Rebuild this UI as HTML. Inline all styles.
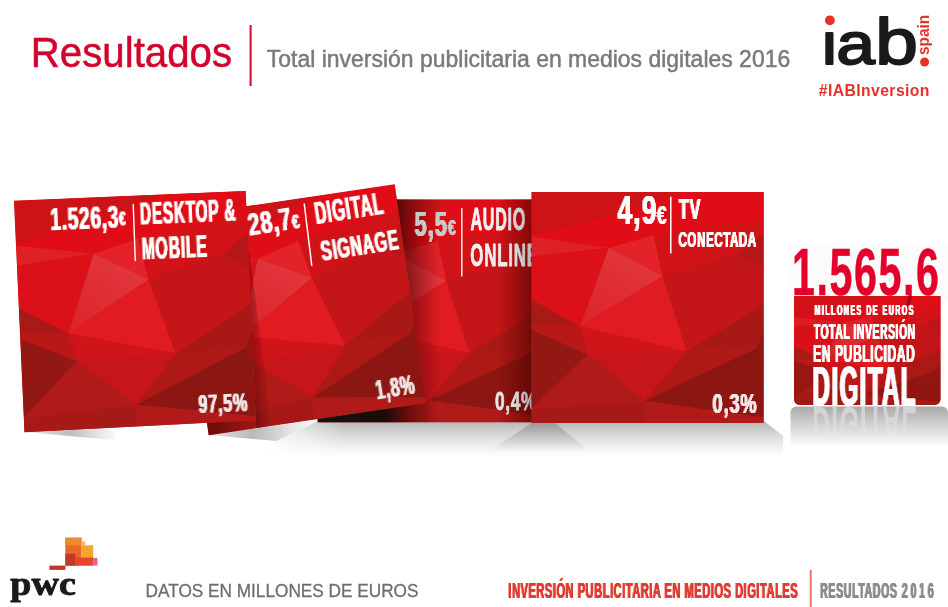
<!DOCTYPE html>
<html lang="es">
<head>
<meta charset="utf-8">
<title>Resultados - Total inversión publicitaria en medios digitales 2016</title>
<style>
html,body{margin:0;padding:0;background:#fff}
body{width:948px;height:607px;overflow:hidden;position:relative;font-family:"Liberation Sans",sans-serif}
svg{position:absolute;left:0;top:0;display:block}
svg text{font-family:"Liberation Sans",sans-serif;font-kerning:normal;white-space:pre}
svg text.serif{font-family:"Liberation Serif",serif}
</style>
</head>
<body>
<svg width="948" height="607" viewBox="0 0 948 607">
<defs>
<g id="tex">

<rect x="-6" y="-6" width="244" height="244" fill="#d41319"/>
<polygon points="0,0 150,0 90,22 0,44" fill="#cd1318"/>
<polygon points="0,44 90,22 150,0 232,0 232,28 122,43.5 77.4,56.3 0,45" fill="#e00d16"/>
<polygon points="0,45 77.4,56.3 0,65" fill="#df2027"/>
<polygon points="0,65 77.4,56.3 48.6,135 0,108" fill="#dc1018"/>
<polygon points="122,43.5 232,28 232,42 206.7,62.5 131,84.5" fill="#d11318"/>
<polygon points="77.4,56.3 122,43.5 131,84.5" fill="#e3222a"/>
<polygon points="77.4,56.3 131,84.5 48.6,135" fill="url(#lf)"/>
<polygon points="48.6,135 131,84.5 155.2,159.8" fill="#e01b22"/>
<polygon points="206.7,62.5 232,42 232,78" fill="#b51618"/>
<polygon points="131,84.5 206.7,62.5 232,78 232,113 155.2,159.8" fill="#c41518"/>
<polygon points="155.2,159.8 232,113 232,140 225.2,156.7" fill="#a81915"/>
<polygon points="225.2,156.7 232,140 232,175" fill="#8f1611"/>
<polygon points="155.2,159.8 225.2,156.7 113,209.3" fill="#ae1916"/>
<polygon points="113,209.3 225.2,156.7 232,175 232,226" fill="#8c1611"/>
<polygon points="113,209.3 232,226 232,232 112,232" fill="#b01a19"/>
<polygon points="55.8,162.9 155.2,159.8 113,209.3" fill="#c6161a"/>
<polygon points="48.6,135 155.2,159.8 55.8,162.9" fill="#cf151a"/>
<polygon points="0,108 48.6,135 0,133" fill="#a81a17"/>
<polygon points="0,133 48.6,135 55.8,162.9 0,138" fill="#b81917"/>
<polygon points="0,138 55.8,162.9 0,218" fill="#931813"/>
<polygon points="55.8,162.9 113,209.3 0,218" fill="#b01a18"/>
<polygon points="0,218 113,209.3 112,232 0,232" fill="#a61917"/>
</g>
<linearGradient id="lf" gradientUnits="userSpaceOnUse" x1="110" y1="60" x2="60" y2="130"><stop offset="0" stop-color="#e2383e"/><stop offset="1" stop-color="#dc252b"/></linearGradient>
<linearGradient id="shd" gradientUnits="userSpaceOnUse" x1="0" y1="421" x2="0" y2="457">
<stop offset="0" stop-color="#b6b6b6"/><stop offset="0.4" stop-color="#d9d9d9"/><stop offset="0.8" stop-color="#f6f6f6"/><stop offset="1" stop-color="#ffffff"/>
</linearGradient>
<linearGradient id="shr" gradientUnits="userSpaceOnUse" x1="764" y1="0" x2="783" y2="0">
<stop offset="0" stop-color="#999" stop-opacity="0"/><stop offset="1" stop-color="#999" stop-opacity="0.25"/>
</linearGradient>
<linearGradient id="shfade" gradientUnits="userSpaceOnUse" x1="268" y1="0" x2="345" y2="0">
<stop offset="0" stop-color="#fff" stop-opacity="0.85"/><stop offset="0.5" stop-color="#fff" stop-opacity="0.45"/><stop offset="1" stop-color="#fff" stop-opacity="0"/>
</linearGradient>
<linearGradient id="shd2" gradientUnits="userSpaceOnUse" x1="0" y1="422" x2="0" y2="452">
<stop offset="0" stop-color="#8c8c8c" stop-opacity="0.75"/><stop offset="1" stop-color="#b0b0b0" stop-opacity="0"/>
</linearGradient>
<linearGradient id="shl" gradientUnits="userSpaceOnUse" x1="30" y1="0" x2="118" y2="0">
<stop offset="0" stop-color="#e8e8e8"/><stop offset="0.45" stop-color="#bcbcbc"/><stop offset="1" stop-color="#ffffff"/>
</linearGradient>
<linearGradient id="shl2" gradientUnits="userSpaceOnUse" x1="215" y1="0" x2="310" y2="0">
<stop offset="0" stop-color="#e0e0e0"/><stop offset="0.4" stop-color="#b8b8b8"/><stop offset="0.8" stop-color="#e4e4e4"/><stop offset="1" stop-color="#f4f4f4"/>
</linearGradient>
<linearGradient id="p3sh" gradientUnits="userSpaceOnUse" x1="318" y1="0" x2="440" y2="0">
<stop offset="0" stop-color="#141210" stop-opacity="1"/><stop offset="0.56" stop-color="#120c0a" stop-opacity="0.95"/><stop offset="0.74" stop-color="#300" stop-opacity="0.5"/><stop offset="1" stop-color="#400" stop-opacity="0"/>
</linearGradient>
<linearGradient id="p3shr" gradientUnits="userSpaceOnUse" x1="498" y1="0" x2="532" y2="0">
<stop offset="0" stop-color="#500" stop-opacity="0"/><stop offset="1" stop-color="#4a0000" stop-opacity="0.6"/>
</linearGradient>
<linearGradient id="p2sh" gradientUnits="userSpaceOnUse" x1="207" y1="430" x2="262" y2="423">
<stop offset="0" stop-color="#300" stop-opacity="0.55"/><stop offset="1" stop-color="#300" stop-opacity="0"/>
</linearGradient>
<linearGradient id="p2sh2" gradientUnits="userSpaceOnUse" x1="252" y1="360" x2="268" y2="359">
<stop offset="0" stop-color="#400" stop-opacity="0.4"/><stop offset="1" stop-color="#400" stop-opacity="0"/>
</linearGradient>
<linearGradient id="refl" x1="0" y1="0" x2="0" y2="1">
<stop offset="0" stop-color="#a9a9a9"/><stop offset="0.45" stop-color="#d2d2d2"/><stop offset="1" stop-color="#ffffff"/>
</linearGradient>
<linearGradient id="numg" gradientUnits="userSpaceOnUse" x1="0" y1="0" x2="0" y2="2"><stop offset="0.45" stop-color="#e4002b"/><stop offset="0.45" stop-color="#a6001c"/></linearGradient>
<linearGradient id="reflt" gradientUnits="userSpaceOnUse" x1="0" y1="-40" x2="0" y2="0"><stop offset="0" stop-color="#fff" stop-opacity="0"/><stop offset="0.35" stop-color="#fff" stop-opacity="0.15"/><stop offset="1" stop-color="#fff" stop-opacity="1"/></linearGradient>
<linearGradient id="boxov" x1="0" y1="0" x2="0" y2="1"><stop offset="0" stop-color="#e00f18" stop-opacity="0.35"/><stop offset="0.5" stop-color="#c81418" stop-opacity="0.1"/><stop offset="1" stop-color="#8a1410" stop-opacity="0.3"/></linearGradient>
<linearGradient id="txg" gradientUnits="userSpaceOnUse" x1="0" y1="0" x2="125" y2="0">
<stop offset="0" stop-color="#f4f4f4"/><stop offset="0.5" stop-color="#ececec"/><stop offset="1" stop-color="#adadad"/>
</linearGradient>
<linearGradient id="txg2" gradientUnits="userSpaceOnUse" x1="0" y1="0" x2="56" y2="0">
<stop offset="0" stop-color="#e6e6e6"/><stop offset="0.5" stop-color="#dcdcdc"/><stop offset="1" stop-color="#a8a8a8"/>
</linearGradient>
<clipPath id="boxclip"><path d="M794,296 H940.5 V399 a6,6 0 0 1 -6,6 H800 a6,6 0 0 1 -6,-6 Z"/></clipPath>
</defs>

<text transform="translate(34.05,66.5) scale(0.9586,1)" x="-3.45" y="0" font-size="42.01" fill="#d2042d" stroke="#d2042d" stroke-width="0.5" stroke-linejoin="round" vector-effect="non-scaling-stroke">Resultados</text>
<rect x="249.6" y="25" width="2" height="61" fill="#d2042d"/>
<text transform="translate(267.35,66.6) scale(0.9357,1)" x="-0.55" y="0" font-size="24.56" fill="#7a7a7a" stroke="#7a7a7a" stroke-width="0.5" stroke-linejoin="round" vector-effect="non-scaling-stroke">Total inversión publicitaria en medios digitales 2016</text>
<text transform="translate(821.8,64.2) scale(1.17,1)" font-size="59" fill="#1a1a1a" stroke="#1a1a1a" stroke-width="2" stroke-linejoin="round" vector-effect="non-scaling-stroke">i<tspan dx="-0.6">a</tspan><tspan font-size="65.5" dx="0.4">b</tspan></text>
<rect x="823" y="13" width="14" height="16.5" fill="#fff"/>
<circle cx="829.9" cy="20.3" r="4.9" fill="#e5332a"/>
<circle cx="924.6" cy="62" r="4.5" fill="#e5332a"/>
<text transform="translate(929,55) rotate(-90) scale(0.93,1)" font-size="16.5" font-weight="bold" fill="#e5332a">spain</text>
<text transform="translate(819,96.3) scale(0.9575,1)" x="-0.28" y="0" font-size="16.48" font-weight="bold" fill="#e5332a" letter-spacing="0.41">#IABInversion</text>
<polygon points="318,421 764,421 783,436 783,457 262,457 276,441" fill="url(#shd)"/>
<polygon points="318,420 345,420 345,458 260,458 276,441" fill="url(#shfade)"/>
<polygon points="533,422 554,422 590,452 488,452" fill="url(#shd2)"/>
<polygon points="24.5,432 122,428 114,440" fill="url(#shl)"/>
<polygon points="208.7,435 330,418 318,421 276,441" fill="url(#shl2)"/>
<clipPath id="c3"><polygon points="317.7,199.6 540,199.6 540,422.2 317.7,422.2"/></clipPath>
<g clip-path="url(#c3)"><use href="#tex" transform="translate(320.6,199.6) rotate(0) scale(0.9595)"/><rect x="310" y="190" width="140" height="240" fill="url(#p3sh)"/><rect x="495" y="190" width="50" height="240" fill="url(#p3shr)"/></g>
<g clip-path="url(#c3)">
<text transform="translate(415.35,235.65) scale(0.6261,1)" x="-1.09" y="0" font-size="35.47" font-weight="bold" fill="#c9c9c9" letter-spacing="1.38" style="filter:drop-shadow(0.55px 0 0 #c9c9c9) drop-shadow(-0.55px 0 0 #c9c9c9)">5,5<tspan font-size="22.6" dx="0.07" dy="-0.6">€</tspan></text>
<line x1="461.8" y1="207.9" x2="461.8" y2="276.5" stroke="#ededed" stroke-width="1.5"/>
<text transform="translate(470.8,229.5) scale(0.5208,1)" x="-0.77" y="0" font-size="30.99" font-weight="bold" fill="url(#txg)" letter-spacing="1.43" stroke="url(#txg)" stroke-width="0.78" stroke-linejoin="round" vector-effect="non-scaling-stroke">AUDIO</text>
<text transform="translate(471,266.4) scale(0.5385,1)" x="-1.29" y="0" font-size="31.44" font-weight="bold" fill="url(#txg)" letter-spacing="1.41" stroke="url(#txg)" stroke-width="0.79" stroke-linejoin="round" vector-effect="non-scaling-stroke">ONLINE</text>
<text transform="translate(495.56,409.64) scale(0.6580,1)" x="-1.05" y="0" font-size="26.44" font-weight="bold" fill="url(#txg2)" letter-spacing="1" stroke="url(#txg2)" stroke-width="0.68" stroke-linejoin="round" vector-effect="non-scaling-stroke">0,4%</text>
</g>
<clipPath id="c4"><polygon points="531.5,192.1 763.8,192.1 763.8,423 531.5,423"/></clipPath>
<g clip-path="url(#c4)"><use href="#tex" transform="translate(531.5,191.6) rotate(0) scale(1.0000)"/></g>
<text transform="translate(618.2,224.21) scale(0.6646,1)" x="-0.6" y="0" font-size="39.95" font-weight="bold" fill="#fff" letter-spacing="1.49" style="filter:drop-shadow(0.6px 0 0 #fff) drop-shadow(-0.6px 0 0 #fff)">4,9<tspan font-size="25.99" dx="-0.54" dy="0.2">€</tspan></text>
<line x1="670.8" y1="196.8" x2="670.8" y2="253.5" stroke="#ffffff" stroke-width="1.5"/>
<text transform="translate(679.09,219.4) scale(0.5404,1)" x="-0.34" y="0" font-size="30.38" font-weight="bold" fill="#fff" letter-spacing="1.35" style="filter:drop-shadow(0.54px 0 0 #fff) drop-shadow(-0.54px 0 0 #fff)">TV</text>
<text transform="translate(679.11,246.6) scale(0.5360,1)" x="-0.89" y="0" font-size="21.77" font-weight="bold" fill="#fff" letter-spacing="0.98" style="filter:drop-shadow(0.39px 0 0 #fff) drop-shadow(-0.39px 0 0 #fff)">CONECTADA</text>
<text transform="translate(713.58,413.12) scale(0.6471,1)" x="-1.13" y="0" font-size="28.5" font-weight="bold" fill="#f3e6e6" letter-spacing="1.09" style="filter:drop-shadow(0.44px 0 0 #f3e6e6) drop-shadow(-0.44px 0 0 #f3e6e6)">0,3%</text>
<clipPath id="c2"><polygon points="177.3,216.5 394.6,184.3 426,403 208.7,435.2"/></clipPath>
<g clip-path="url(#c2)"><use href="#tex" transform="translate(177.3,216.5) rotate(-8.3) scale(0.9504)"/><polygon points="200,400 270,400 270,440 200,440" fill="url(#p2sh)"/><polygon points="247,250 256,420 257,440 274,440 249,250" fill="url(#p2sh2)"/></g>
<text transform="translate(250.5,235.7) rotate(-8.8) translate(0.31,0) scale(0.6544,1)" x="-1.12" y="0" font-size="32.2" font-weight="bold" fill="#fff" letter-spacing="1.18" style="filter:drop-shadow(0.47px 0 0 #fff) drop-shadow(-0.47px 0 0 #fff)">28,7<tspan font-size="20.9" dx="-0.56" dy="0.3">€</tspan></text>
<line x1="304.2" y1="203.5" x2="311.8" y2="265.8" stroke="#ffffff" stroke-width="1.5"/>
<text transform="translate(317.2,224.2) rotate(-8.8) translate(0.31,0) scale(0.5169,1)" x="-2.12" y="0" font-size="31.74" font-weight="bold" fill="#fff" letter-spacing="1.48" style="filter:drop-shadow(0.59px 0 0 #fff) drop-shadow(-0.59px 0 0 #fff)">DIGITAL</text>
<text transform="translate(322.9,261) rotate(-8.8) translate(0.29,0) scale(0.5345,1)" x="-0.86" y="0" font-size="29.93" font-weight="bold" fill="#fff" letter-spacing="1.35" style="filter:drop-shadow(0.54px 0 0 #fff) drop-shadow(-0.54px 0 0 #fff)">SIGNAGE</text>
<text transform="translate(378.1,399.4) rotate(-9.2) translate(0.27,0) scale(0.5888,1)" x="-1.74" y="0" font-size="27.66" font-weight="bold" fill="#f3e6e6" letter-spacing="1.13" style="filter:drop-shadow(0.45px 0 0 #f3e6e6) drop-shadow(-0.45px 0 0 #f3e6e6)">1,8%</text>
<clipPath id="c1"><polygon points="14,200.7 245.6,191.1 255.8,420.2 24.5,432.2"/></clipPath>
<g clip-path="url(#c1)"><use href="#tex" transform="translate(14,200.7) rotate(-2.5) scale(1.0000)"/></g>
<text transform="translate(51.9,230.3) rotate(-2.3) translate(0.3,0) scale(0.6229,1)" x="-1.93" y="0" font-size="30.69" font-weight="bold" fill="#fff" letter-spacing="1.19" style="filter:drop-shadow(0.47px 0 0 #fff) drop-shadow(-0.47px 0 0 #fff)">1.526,3<tspan font-size="19.49" dx="-0.3" dy="-1.6">€</tspan></text>
<line x1="133.2" y1="204" x2="135.3" y2="261.1" stroke="#ffffff" stroke-width="1.4"/>
<text transform="translate(141.2,224.6) rotate(-2.3) translate(0.3,0) scale(0.4938,1)" x="-2.09" y="0" font-size="31.29" font-weight="bold" fill="#fff" letter-spacing="1.53" style="filter:drop-shadow(0.61px 0 0 #fff) drop-shadow(-0.61px 0 0 #fff)">DESKTOP &amp;</text>
<text transform="translate(143,259.5) rotate(-2.3) translate(0.3,0) scale(0.5003,1)" x="-2.11" y="0" font-size="31.59" font-weight="bold" fill="#fff" letter-spacing="1.52" style="filter:drop-shadow(0.61px 0 0 #fff) drop-shadow(-0.61px 0 0 #fff)">MOBILE</text>
<text transform="translate(199.3,413.1) rotate(-2.3) translate(0.25,0) scale(0.6400,1)" x="-0.89" y="0" font-size="25.7" font-weight="bold" fill="#f3e6e6" letter-spacing="0.97" style="filter:drop-shadow(0.39px 0 0 #f3e6e6) drop-shadow(-0.39px 0 0 #f3e6e6)">97,5%</text>
<rect x="790.5" y="243.5" width="170" height="58" rx="7" fill="#fbfbfb"/>
<path d="M790.5,447 V412.5 a6,6 0 0 1 6,-6 H942 a6,6 0 0 1 6,6 V447 Z" fill="url(#refl)"/>
<g clip-path="url(#boxclip)"><use href="#tex" transform="translate(794,296) scale(0.632,0.47)"/><rect x="794" y="296" width="147" height="110" fill="url(#boxov)"/></g>
<text transform="translate(794.67,295.2) scale(0.6255,1)" x="-4.15" y="0" font-size="65.84" font-weight="bold" fill="url(#numg)" letter-spacing="2.53" stroke="url(#numg)" stroke-width="0.45" stroke-linejoin="round" vector-effect="non-scaling-stroke">1.565,6</text>
<text transform="translate(815.25,315.2) scale(0.5114,1)" x="-0.92" y="0" font-size="13.76" font-weight="bold" fill="#fff" letter-spacing="2.93" style="filter:drop-shadow(0.1px 0 0 #fff) drop-shadow(-0.1px 0 0 #fff)">MILLONES DE EUROS</text>
<text transform="translate(814.11,339.3) scale(0.4695,1)" x="-0.25" y="0" font-size="22.22" font-weight="bold" fill="#fff" letter-spacing="1.14" style="filter:drop-shadow(0.46px 0 0 #fff) drop-shadow(-0.46px 0 0 #fff)">TOTAL INVERSIÓN</text>
<text transform="translate(814.12,361.7) scale(0.5218,1)" x="-1.56" y="0" font-size="23.28" font-weight="bold" fill="#fff" letter-spacing="1.07" style="filter:drop-shadow(0.43px 0 0 #fff) drop-shadow(-0.43px 0 0 #fff)">EN PUBLICIDAD</text>
<text transform="translate(814.44,404.9) scale(0.4348,1)" x="-3.72" y="0" font-size="55.63" font-weight="bold" fill="#fff" letter-spacing="3.08" style="filter:drop-shadow(1.23px 0 0 #fff) drop-shadow(-1.23px 0 0 #fff)">DIGITAL</text>
<g transform="translate(0,811.5) scale(1,-1)" opacity="0.5"><text transform="translate(813.9,404.9) scale(0.4399,1)" x="-3.72" y="0" font-size="55.63" font-weight="bold" fill="url(#reflt)" letter-spacing="3.05" aria-hidden="true">DIGITAL</text></g>
<rect x="49.4" y="565.6" width="16" height="4.3" fill="#c0392b"/>
<rect x="65.3" y="537.7" width="16.2" height="28" fill="#e8692c"/>
<rect x="65.3" y="537.7" width="16.2" height="7.5" fill="#f08a2e"/>
<rect x="81.5" y="545.3" width="11.7" height="20.3" fill="#f4a72f"/>
<rect x="81.5" y="541.5" width="3.5" height="4" fill="#f6b27a"/>
<rect x="65.3" y="553.7" width="10.1" height="12" fill="#c13b2a"/>
<rect x="75.4" y="557.5" width="17.8" height="8.1" fill="#e8452c"/>
<rect x="93.2" y="558" width="4.3" height="7.6" fill="#ea5c96"/>
<text transform="translate(10.75,594.88) scale(1.1434,1)" x="-0.42" y="0" font-size="33.28" class="serif" font-weight="bold" fill="#1a1a1a" stroke="#1a1a1a" stroke-width="0.9" stroke-linejoin="round" vector-effect="non-scaling-stroke">pwc</text>
<text transform="translate(146.95,597.3) scale(0.9631,1)" x="-1.47" y="0" font-size="17.88" fill="#6d6e70" stroke="#6d6e70" stroke-width="0.3" stroke-linejoin="round" vector-effect="non-scaling-stroke">DATOS EN MILLONES DE EUROS</text>
<text transform="translate(509.35,597.8) scale(0.5019,1)" x="-1.48" y="0" font-size="22.07" font-weight="bold" fill="#e03c31" letter-spacing="1.06" style="filter:drop-shadow(0.3px 0 0 #e03c31) drop-shadow(-0.3px 0 0 #e03c31)">INVERSIÓN PUBLICITARIA EN MEDIOS DIGITALES</text>
<rect x="809.8" y="570" width="1.8" height="37" fill="#e26a5f"/>
<text transform="translate(821.05,597.8) scale(0.4843,1)" x="-1.48" y="0" font-size="22.07" font-weight="bold" fill="#8c8c8c" letter-spacing="1.1" style="filter:drop-shadow(0.31px 0 0 #8c8c8c) drop-shadow(-0.31px 0 0 #8c8c8c)">RESULTADOS<tspan font-size="22.07" dx="-2.99" letter-spacing="5.7"> 2016</tspan></text>
</svg>
</body>
</html>
